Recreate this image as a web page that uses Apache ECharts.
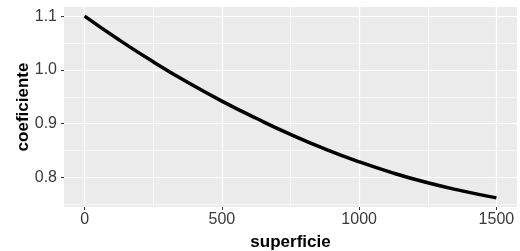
<!DOCTYPE html>
<html>
<head>
<meta charset="utf-8">
<script src="https://cdn.jsdelivr.net/npm/echarts@6/dist/echarts.min.js"></script>
<style>
  html, body { margin: 0; padding: 0; background: #fff; }
  #chart { width: 520px; height: 251px; }
</style>
</head>
<body>
<div id="chart"></div>
<script>
// valores
const superficie = [0, 125, 250, 375, 500, 625, 750, 875, 1000, 1125, 1250, 1375, 1500];
const coeficiente = [1.100, 1.056, 1.015, 0.977, 0.942, 0.910, 0.880, 0.853, 0.829, 0.808, 0.790, 0.775, 0.762];

const xTicks = [0, 500, 1000, 1500];
const xMinor = [250, 750, 1250];
const yTicks = [0.8, 0.9, 1.0, 1.1];
const yMinor = [0.75, 0.85, 0.95, 1.05];

const chart = echarts.init(document.getElementById('chart'));

const gridLine = (axis, v, w) => ({
  [axis]: v,
  lineStyle: { color: '#ffffff', width: w, type: 'solid' }
});

const option = {
  animation: false,
  grid: {
    left: 64, right: 3, top: 7, bottom: 44,
    outerBoundsMode: 'none',
    containLabel: false,
    show: true,
    backgroundColor: '#EBEBEB',
    borderWidth: 0
  },
  xAxis: {
    type: 'value',
    min: -75,
    max: 1575,
    name: 'superficie',
    nameLocation: 'middle',
    nameGap: 27,
    nameMoveOverlap: false,
    nameTextStyle: { color: '#000', fontSize: 17, fontWeight: 'bold', fontFamily: 'Liberation Sans' },
    axisLine: { show: true, onZero: false, lineStyle: { color: 'rgba(0,0,0,0)' } },
    axisTick: { show: true, length: 3, customValues: xTicks, lineStyle: { color: '#333333', width: 1 } },
    axisLabel: {
      customValues: xTicks,
      margin: 5,
      color: '#3a3a3a',
      fontSize: 16,
      fontFamily: 'Liberation Sans',
      formatter: v => String(v)
    },
    splitLine: { show: false }
  },
  yAxis: {
    type: 'value',
    min: 0.745,
    max: 1.117,
    name: 'coeficiente',
    nameLocation: 'middle',
    nameGap: 32,
    nameMoveOverlap: false,
    nameTextStyle: { color: '#000', fontSize: 17, fontWeight: 'bold', fontFamily: 'Liberation Sans' },
    axisLine: { show: true, onZero: false, lineStyle: { color: 'rgba(0,0,0,0)' } },
    axisTick: { show: true, length: 3, customValues: yTicks, lineStyle: { color: '#333333', width: 1 } },
    axisLabel: {
      customValues: yTicks,
      margin: 7,
      color: '#3a3a3a',
      fontSize: 16,
      fontFamily: 'Liberation Sans',
      formatter: v => v.toFixed(1)
    },
    splitLine: { show: false }
  },
  series: [
    {
      // líneas de la cuadrícula
      type: 'line',
      data: [],
      silent: true,
      z: 1,
      markLine: {
        silent: true,
        z: 1,
        symbol: 'none',
        label: { show: false },
        animation: false,
        data: [
          ...xMinor.map(v => gridLine('xAxis', v, 0.6)),
          ...yMinor.map(v => gridLine('yAxis', v, 0.6)),
          ...xTicks.map(v => gridLine('xAxis', v, 1.2)),
          ...yTicks.map(v => gridLine('yAxis', v, 1.2))
        ]
      }
    },
    {
      type: 'line',
      z: 3,
      data: superficie.map((x, i) => [x, coeficiente[i]]),
      smooth: true,
      showSymbol: false,
      lineStyle: { color: '#000000', width: 3.5 }
    }
  ]
};

chart.setOption(option);
</script>
</body>
</html>
